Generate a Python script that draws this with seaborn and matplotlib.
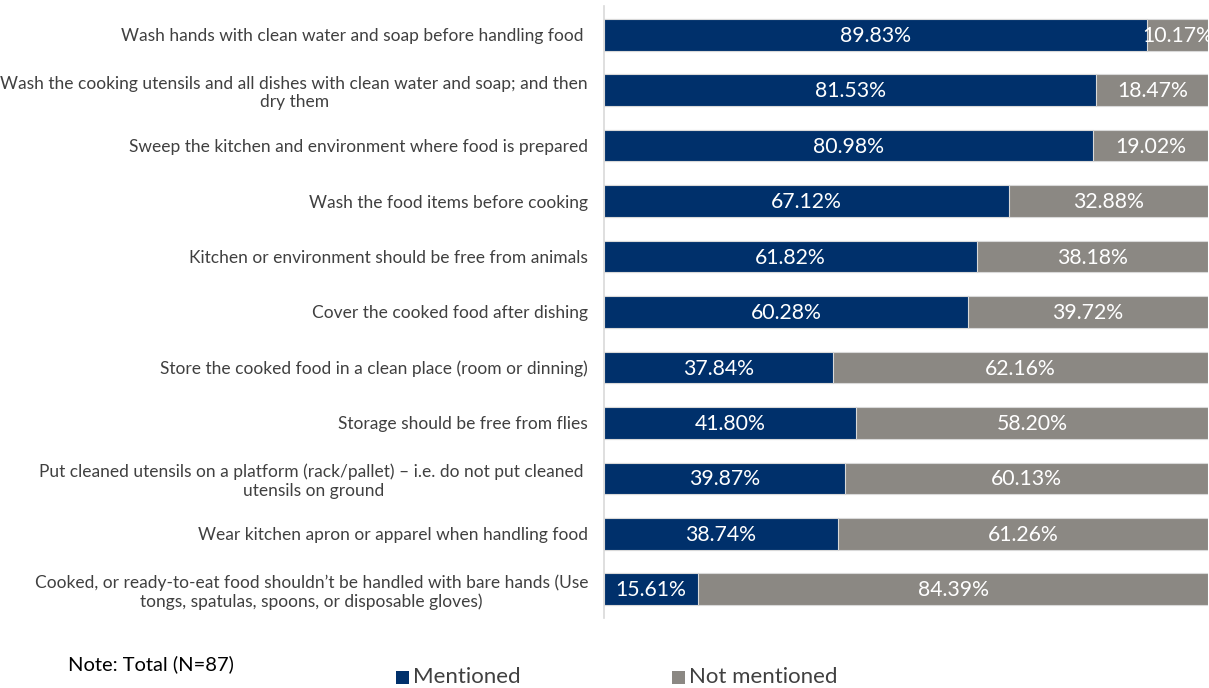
import matplotlib
matplotlib.use("Agg")
import matplotlib.pyplot as plt
import seaborn as sns
import pandas as pd
from matplotlib.patches import Rectangle

categories = [
    "Wash hands with clean water and soap before handling food ",
    "Wash the cooking utensils and all dishes with clean water and soap; and then\ndry them",
    "Sweep the kitchen and environment where food is prepared",
    "Wash the food items before cooking",
    "Kitchen or environment should be free from animals",
    "Cover the cooked food after dishing",
    "Store the cooked food in a clean place (room or dinning)",
    "Storage should be free from flies",
    "Put cleaned utensils on a platform (rack/pallet) \u2013 i.e. do not put cleaned \nutensils on ground",
    "Wear kitchen apron or apparel when handling food",
    "Cooked, or ready-to-eat food shouldn\u2019t be handled with bare hands (Use\ntongs, spatulas, spoons, or disposable gloves)",
]
mentioned = [89.83, 81.53, 80.98, 67.12, 61.82, 60.28, 37.84, 41.80, 39.87, 38.74, 15.61]
not_mentioned = [10.17, 18.47, 19.02, 32.88, 38.18, 39.72, 62.16, 58.20, 60.13, 61.26, 84.39]
series_names = ["Mentioned", "Not mentioned"]
note_text = "Note: Total (N=87)"

NAVY = "#00306B"
GREY = "#8B8883"

df = pd.DataFrame({"category": categories, "mentioned": mentioned, "not_mentioned": not_mentioned})
df["total"] = df["mentioned"] + df["not_mentioned"]

sns.set_theme(style="white")
plt.rcParams["font.family"] = ["Lato", "DejaVu Sans"]

fig = plt.figure(figsize=(12.09, 6.88), dpi=100)
ax = fig.add_axes([604 / 1209, 1 - 618 / 688, 604 / 1209, 612 / 688])

# stacked bars: full total in grey underneath, mentioned share in navy on top
sns.barplot(data=df, y="category", x="total", color=GREY, orient="h", width=0.57,
            ax=ax, edgecolor="#d9d9d9", linewidth=0.8, saturation=1)
sns.barplot(data=df, y="category", x="mentioned", color=NAVY, orient="h", width=0.57,
            ax=ax, edgecolor="#d9d9d9", linewidth=0.8, saturation=1)

for i, (m, n) in enumerate(zip(mentioned, not_mentioned)):
    ax.text(m / 2, i + 0.02, f"{m:.2f}%", ha="center", va="center", color="white", fontsize=15.3)
    ax.text(m + n / 2, i + 0.02, f"{n:.2f}%", ha="center", va="center", color="white",
            fontsize=15.3, clip_on=False)

ax.set_xlim(0, 100)
ax.set_ylim(10.52, -0.52)
ax.set_xlabel("")
ax.set_ylabel("")
ax.set_xticks([])
ax.tick_params(axis="y", length=0, pad=11.5, labelsize=12.5, labelcolor="#404040")
for lbl in ax.get_yticklabels():
    lbl.set_multialignment("center")

for side in ["top", "right", "bottom"]:
    ax.spines[side].set_visible(False)
ax.spines["left"].set_color("#d9d9d9")
ax.spines["left"].set_linewidth(1.2)

fig.text(68 / 1209, 1 - 664 / 688, note_text, fontsize=14.5, color="black", va="center")

# legend entries along the bottom
for (x0, name, col) in [(396, series_names[0], NAVY), (672, series_names[1], GREY)]:
    fig.patches.append(Rectangle((x0 / 1209, 1 - 684 / 688), 13 / 1209, 13 / 688,
                                 transform=fig.transFigure, facecolor=col, edgecolor="none"))
    fig.text((x0 + 17) / 1209, 1 - 677 / 688, name, fontsize=16, color="#404040", va="center")

fig.savefig("out.png", dpi=100)
